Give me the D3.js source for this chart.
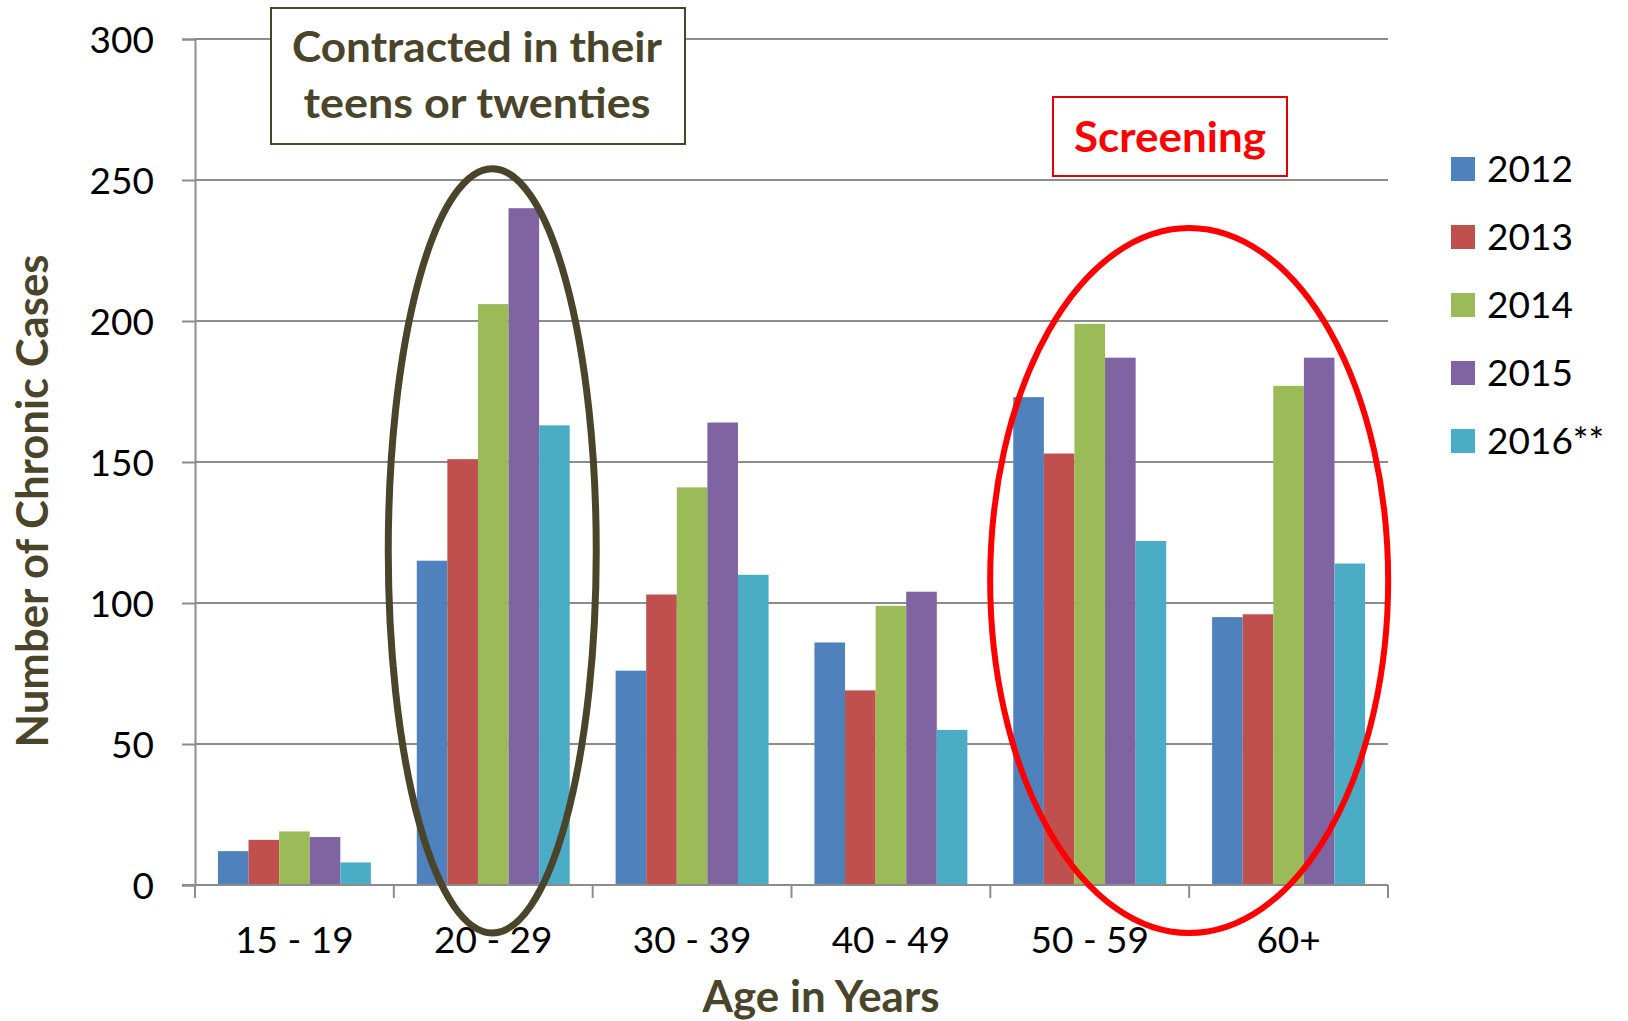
<!DOCTYPE html>
<html>
<head>
<meta charset="utf-8">
<script src="https://cdn.jsdelivr.net/npm/d3@7"></script>
<style>
  body { margin: 0; background: #fff; }
  svg { display: block; }
  text { font-family: Lato, "Open Sans", sans-serif; }
</style>
</head>
<body>
<svg id="chart" width="1628" height="1021"></svg>
<script>
// data
var categories = ["15 - 19", "20 - 29", "30 - 39", "40 - 49", "50 - 59", "60+"]
var years = ["2012", "2013", "2014", "2015", "2016**"]
var colors = ["#4F81BD", "#C0504D", "#9BBB59", "#8064A2", "#4BACC6"]
var cases2012 = [12, 115, 76, 86, 173, 95]
var cases2013 = [16, 151, 103, 69, 153, 96]
var cases2014 = [19, 206, 141, 99, 199, 177]
var cases2015 = [17, 240, 164, 104, 187, 187]
var cases2016 = [8, 163, 110, 55, 122, 114]
var yTicks = [0, 50, 100, 150, 200, 250, 300]

var series = [cases2012, cases2013, cases2014, cases2015, cases2016]

var svg = d3.select("#chart")
var plotLeft = 195, plotRight = 1388, plotTop = 39, plotBottom = 885
var olive = "#4A452A"
var gridCol = "#8C8C8C"

var x0 = d3.scaleBand().domain(categories).range([plotLeft, plotRight])
var x1 = d3.scaleBand().domain(years).range([0, x0.bandwidth()]).paddingOuter(0.75)
var y = d3.scaleLinear().domain([0, 300]).range([plotBottom, plotTop])

// grid lines
svg.append("g")
  .selectAll("line")
  .data(yTicks.filter(function(d) { return d > 0 }))
  .enter().append("line")
  .attr("x1", plotLeft).attr("x2", plotRight)
  .attr("y1", function(d) { return y(d) }).attr("y2", function(d) { return y(d) })
  .attr("stroke", gridCol).attr("stroke-width", 2)

// y axis
var yAxis = svg.append("g")
  .attr("transform", "translate(" + plotLeft + ",0)")
  .call(d3.axisLeft(y).tickValues(yTicks).tickSize(13).tickPadding(28))
yAxis.select(".domain").attr("stroke", gridCol).attr("stroke-width", 2)
yAxis.selectAll(".tick line").attr("stroke", gridCol).attr("stroke-width", 2)
yAxis.selectAll(".tick text")
  .attr("font-size", 37).attr("fill", "#000").attr("dy", "0.36em")
  .style("font-family", "Lato")

// bars
series.forEach(function(vals, s) {
  svg.append("g")
    .selectAll("rect")
    .data(vals)
    .enter().append("rect")
    .attr("x", function(d, i) { return x0(categories[i]) + x1(years[s]) })
    .attr("width", x1.bandwidth())
    .attr("y", function(d) { return y(d) })
    .attr("height", function(d) { return y(0) - y(d) })
    .attr("fill", colors[s])
})

// x axis
var xAxis = svg.append("g")
  .attr("transform", "translate(0," + plotBottom + ")")
  .call(d3.axisBottom(x0).tickSize(0).tickPadding(42))
xAxis.select(".domain").remove()
xAxis.selectAll(".tick text")
  .attr("font-size", 37).attr("fill", "#000")
  .style("font-family", "Lato")
svg.append("line")
  .attr("x1", plotLeft - 13).attr("x2", plotRight)
  .attr("y1", plotBottom).attr("y2", plotBottom)
  .attr("stroke", gridCol).attr("stroke-width", 2)
// tick marks between categories
var bounds = categories.map(function(c) { return x0(c) }).concat([plotRight])
svg.append("g").selectAll("line")
  .data(bounds)
  .enter().append("line")
  .attr("x1", function(d) { return d }).attr("x2", function(d) { return d })
  .attr("y1", plotBottom).attr("y2", plotBottom + 13)
  .attr("stroke", gridCol).attr("stroke-width", 2)

// axis titles
svg.append("text")
  .attr("x", 821).attr("y", 1012)
  .attr("text-anchor", "middle")
  .attr("font-size", 43).attr("font-weight", "bold").attr("fill", olive)
  .attr("textLength", 237).attr("lengthAdjust", "spacingAndGlyphs")
  .text("Age in Years")

svg.append("text")
  .attr("transform", "translate(48,501) rotate(-90)")
  .attr("text-anchor", "middle")
  .attr("font-size", 44).attr("font-weight", "bold").attr("fill", olive)
  .attr("textLength", 493).attr("lengthAdjust", "spacingAndGlyphs")
  .text("Number of Chronic Cases")

// legend
var legend = svg.append("g").selectAll("g")
  .data(years)
  .enter().append("g")
  .attr("transform", function(d, i) { return "translate(1451," + (157 + i * 68) + ")" })
legend.append("rect")
  .attr("width", 24).attr("height", 24)
  .attr("fill", function(d, i) { return colors[i] })
legend.append("text")
  .attr("x", 36).attr("y", 25)
  .attr("font-size", 37).attr("fill", "#000")
  .text(function(d) { return d })

// annotations
var c20 = x0("20 - 29") + x0.bandwidth() / 2
svg.append("ellipse")
  .attr("cx", c20 - 1).attr("cy", (y(254) + y(-17)) / 2)
  .attr("rx", 104).attr("ry", (y(-17) - y(254)) / 2)
  .attr("fill", "none").attr("stroke", olive).attr("stroke-width", 7)

var c50 = x0("60+")
svg.append("ellipse")
  .attr("cx", c50).attr("cy", (y(233) + y(-17)) / 2)
  .attr("rx", 199).attr("ry", (y(-17) - y(233)) / 2)
  .attr("fill", "none").attr("stroke", "#FF0000").attr("stroke-width", 6)

svg.append("rect")
  .attr("x", 271).attr("y", 8).attr("width", 414).attr("height", 136)
  .attr("fill", "#fff").attr("stroke", olive).attr("stroke-width", 2)
svg.append("text")
  .attr("x", 477).attr("y", 62).attr("text-anchor", "middle")
  .attr("font-size", 42).attr("font-weight", "bold").attr("fill", olive)
  .attr("textLength", 370).attr("lengthAdjust", "spacingAndGlyphs")
  .text("Contracted in their")
svg.append("text")
  .attr("x", 477).attr("y", 118).attr("text-anchor", "middle")
  .attr("font-size", 42).attr("font-weight", "bold").attr("fill", olive)
  .attr("textLength", 347).attr("lengthAdjust", "spacingAndGlyphs")
  .text("teens or twenties")

svg.append("rect")
  .attr("x", 1053).attr("y", 97).attr("width", 234).attr("height", 79)
  .attr("fill", "#fff").attr("stroke", "#E00000").attr("stroke-width", 2)
svg.append("text")
  .attr("x", 1170).attr("y", 152).attr("text-anchor", "middle")
  .attr("font-size", 42).attr("font-weight", "bold").attr("fill", "#FF0000")
  .attr("textLength", 192).attr("lengthAdjust", "spacingAndGlyphs")
  .text("Screening")
</script>
</body>
</html>
